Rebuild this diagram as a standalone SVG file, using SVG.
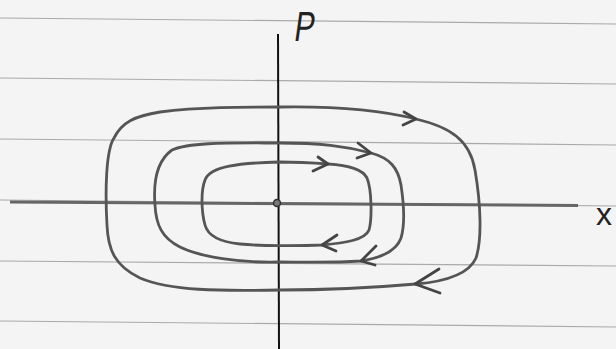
<svg xmlns="http://www.w3.org/2000/svg" width="616" height="349" viewBox="0 0 616 349">
<style>
.rule{stroke:#aaa;stroke-width:1.2;fill:none}
.orbit{stroke:#555;stroke-width:2.8;fill:none;stroke-linecap:round;stroke-linejoin:round}
.arrow{stroke:#444;stroke-width:2.8;fill:none;stroke-linecap:round;stroke-linejoin:round}
.lbl{font-family:"Liberation Sans",Arial,sans-serif;fill:#222}
</style>
<rect width="616" height="349" fill="#f4f4f4"/>
<g id="paper">
<line class="rule" x1="0" y1="18" x2="616" y2="24"/>
<line class="rule" x1="0" y1="78" x2="616" y2="84"/>
<line class="rule" x1="0" y1="139" x2="616" y2="145"/>
<line class="rule" x1="0" y1="200" x2="616" y2="206"/>
<line class="rule" x1="0" y1="261" x2="616" y2="266"/>
<line class="rule" x1="0" y1="321" x2="616" y2="327"/>
</g>
<g id="axes">
<line x1="278" y1="34" x2="279" y2="349" stroke="#111" stroke-width="2"/>
<line x1="10" y1="202" x2="578" y2="205.5" stroke="#666" stroke-width="3"/>
<circle cx="277" cy="203" r="3.5" fill="#777" stroke="#333" stroke-width="1.5"/>
</g>
<g id="orbits">
<path id="outer" class="orbit" d="M280,107 C340,106 380,110 416,119 C450,127 470,140 475,170 C481,205 482,240 476,258 C468,276 440,282 416,284 C370,288 330,290 280,290 C220,291 170,291 140,278 C115,266 108,250 107,225 C105,190 106,150 114,138 C122,122 135,116 160,112 C200,107 240,107 280,107 Z"/>
<path id="middle" class="orbit" d="M279,143 C320,143 345,146 371,153 C390,158 398,168 401,185 C404,205 405,225 401,238 C396,252 380,258 361,261 C330,263 300,262 279,262 C240,263 200,257 180,247 C162,238 156,225 155,205 C153,180 158,160 172,150 C190,142 230,143 279,143 Z"/>
<path id="inner" class="orbit" d="M279,162 C300,162 315,163 328,164 C345,165 362,168 367,178 C372,190 372,220 369,230 C365,240 345,243 322,245 C300,246 260,246 240,244 C220,242 208,236 205,225 C201,210 201,190 205,180 C210,166 240,163 279,162 Z"/>
</g>
<g id="arrows">
<path class="arrow" d="M404,112 L416,119 L403,125"/>
<path class="arrow" d="M358,143 L371,153 L357,158"/>
<path class="arrow" d="M318,157 L328,164 L313,171"/>
<path class="arrow" d="M337,235 L322,245 L336,251"/>
<path class="arrow" d="M376,246 L361,261 L375,265"/>
<path class="arrow" d="M439,269 L415,284 L440,293"/>
</g>
<g id="labels">
<text class="lbl" transform="translate(293,41) skewX(-8) scale(0.72,1)" font-size="42">P</text>
<text class="lbl" x="596" y="225" font-size="32">x</text>
</g>
</svg>
